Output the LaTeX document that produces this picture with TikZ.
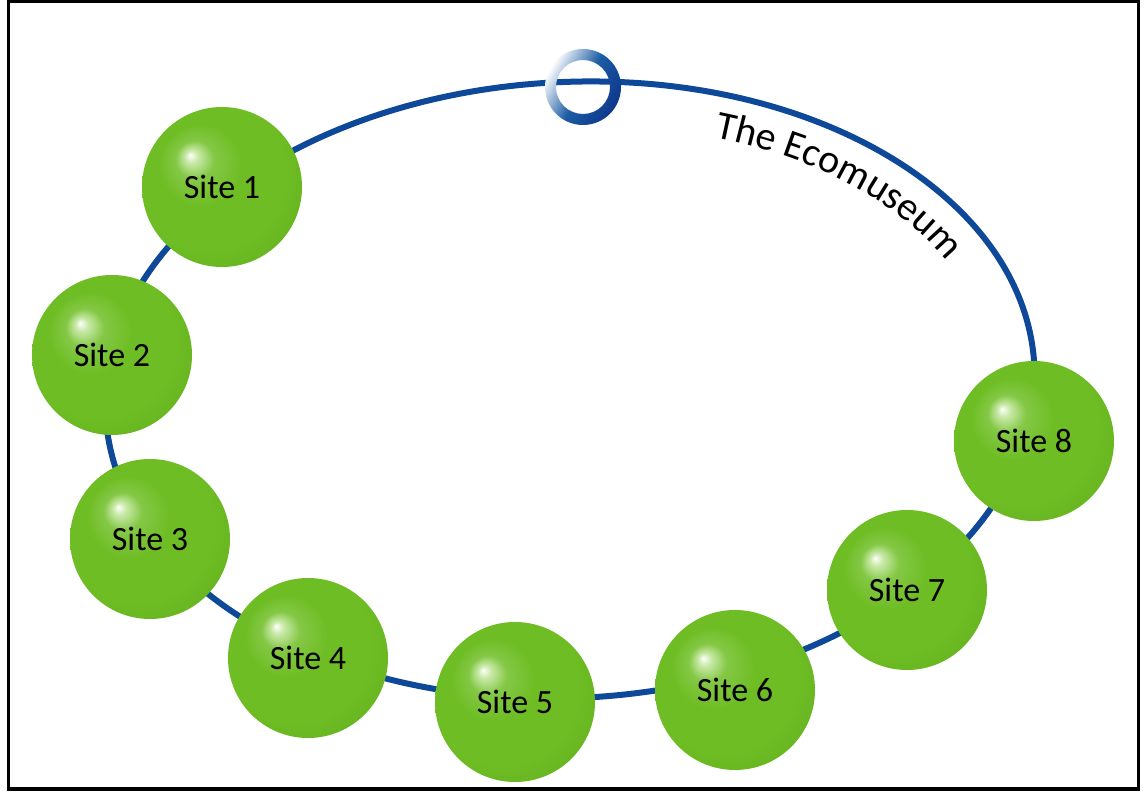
\documentclass[tikz,border=0pt]{standalone}
\usepackage{fontspec}
\setmainfont{Carlito}
\usetikzlibrary{decorations.text}
\definecolor{loopblue}{RGB}{14,72,152}
\definecolor{ringblue}{RGB}{28,92,164}
\definecolor{ringdark}{RGB}{14,56,140}
\definecolor{sitegreen}{RGB}{110,189,36}
\definecolor{sitelight}{RGB}{200,233,168}
\definecolor{sitemid}{RGB}{132,200,70}
\definecolor{siterim}{RGB}{100,176,30}
\definecolor{sitedark}{RGB}{84,154,18}
\pgfdeclareradialshading{sitesphere}{\pgfpoint{-10bp}{10bp}}{color(0bp)=(white); color(2bp)=(sitelight); color(6bp)=(sitemid); color(13bp)=(sitegreen); color(24bp)=(sitegreen); color(33bp)=(siterim); color(40bp)=(sitedark)}

\begin{document}
\begin{tikzpicture}[x=0.5pt, y=0.5pt,
		site/.style={circle, minimum size=80pt, inner sep=0pt, shading=sitesphere, font=\fontsize{17}{20}\selectfont},
		loop/.style={draw=loopblue, line width=3pt}
		]
		\useasboundingbox (0,0) rectangle (1148,794);
		\draw[line width=1.8pt] (8.5,5) rectangle (1138.5,792.5);
		
		\begin{scope}[shift={(570,404)}, rotate=3]
			\draw[loop] (0,0) ellipse [x radius=465, y radius=308];
			\path[decorate, decoration={text along path, text={|\fontsize{20}{24}\selectfont|The Ecomuseum}}]
				(68:420 and 264) arc [start angle=68, end angle=0, x radius=420, y radius=264];
		\end{scope}
		
		\shade[even odd rule, left color=white, right color=ringdark, middle color=ringblue, shading angle=60]
			(583,707) circle (38) (583,707) circle (27);
		
		\foreach \i/\x/\y in {1/222/607, 2/112/439, 3/150/255, 4/308/136, 5/515/92, 6/735/104, 7/907/204, 8/1034/353} {
			\node[site] (s\i) at (\x,\y) {Site \i};
		}
	\end{tikzpicture}
\end{document}
